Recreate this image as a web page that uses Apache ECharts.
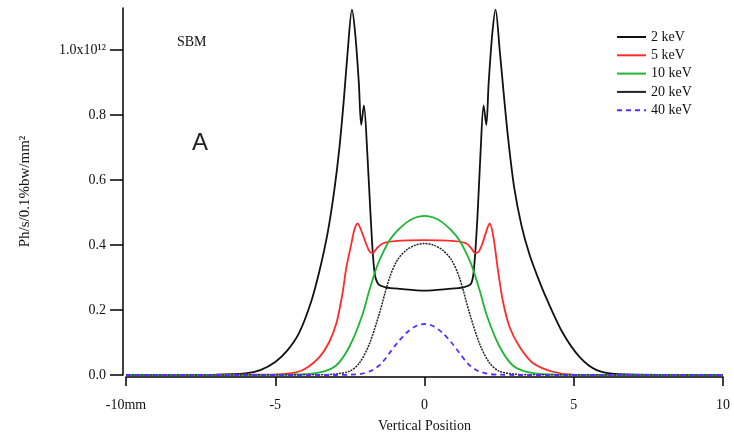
<!DOCTYPE html>
<html><head><meta charset="utf-8">
<script src="https://cdn.jsdelivr.net/npm/echarts@6/dist/echarts.min.js"></script>
<style>html,body{margin:0;padding:0;background:#fff}#c{width:734px;height:438px}</style>
</head><body><div id="c"></div>
<script>
// ---- data (x in mm, y in 1e12 Ph/s/0.1%bw/mm^2) ----
const x2 = [-10,-7,-6,-5.5,-5,-4.6,-4.2,-3.8,-3.52,-3.24,-3.02,-2.85,-2.7,-2.57,-2.43,-2.32,-2.2,-2.12,-2.03,-1.92,-1.8,-1.68,-1.55,-1.3,-0.8,0,
            0.8,1.3,1.55,1.65,1.77,1.88,1.98,2.07,2.15,2.27,2.38,2.52,2.65,2.8,3.0,3.25,3.52,3.8,4.09,4.63,5.2,5.77,6.5,10];
const y2 = [0,0.001,0.005,0.015,0.04,0.075,0.13,0.225,0.32,0.44,0.57,0.7,0.85,1.0,1.125,1.05,0.9,0.77,0.83,0.69,0.48,0.32,0.28,0.27,0.265,0.26,
            0.265,0.27,0.28,0.32,0.48,0.69,0.83,0.77,0.9,1.05,1.125,1.0,0.87,0.73,0.58,0.46,0.37,0.3,0.235,0.13,0.055,0.015,0.003,0];

const x5 = [-10,-5,-4.3,-3.9,-3.52,-3.2,-2.95,-2.75,-2.62,-2.46,-2.34,-2.24,-2.12,-1.96,-1.84,-1.73,-1.6,-1.4,-1.0,0,
            1.0,1.4,1.57,1.7,1.82,1.94,2.08,2.18,2.3,2.45,2.62,2.85,3.19,3.63,4.3,5,10];
const y5 = [0,0.002,0.008,0.025,0.055,0.1,0.16,0.25,0.33,0.4,0.45,0.467,0.445,0.405,0.38,0.375,0.39,0.405,0.412,0.415,
            0.412,0.405,0.39,0.375,0.38,0.405,0.445,0.467,0.43,0.33,0.23,0.148,0.086,0.037,0.01,0.001,0];

const x10 = [-10,-4.5,-3.5,-2.95,-2.5,-2.1,-1.85,-1.61,-1.4,-1.17,-0.9,-0.6,-0.3,0,0.3,0.6,0.9,1.17,1.4,1.61,1.85,2.1,2.5,2.95,3.5,4.5,10];
const y10 = [0,0.001,0.008,0.03,0.09,0.18,0.26,0.33,0.375,0.415,0.445,0.47,0.485,0.49,0.485,0.47,0.445,0.415,0.375,0.33,0.26,0.18,0.09,0.03,0.008,0.001,0];

const x20 = [-10,-3.5,-3.0,-2.5,-2.18,-1.85,-1.51,-1.17,-0.9,-0.6,-0.3,0,0.3,0.6,0.9,1.17,1.51,1.85,2.18,2.5,3.0,3.5,10];
const y20 = [0,0.0005,0.003,0.012,0.037,0.095,0.19,0.3,0.355,0.385,0.4,0.405,0.4,0.385,0.355,0.3,0.19,0.095,0.037,0.012,0.003,0.0005,0];

const x40 = [-10,-3,-2.5,-2.1,-1.74,-1.45,-1.17,-0.9,-0.6,-0.3,0,0.3,0.6,0.9,1.17,1.45,1.74,2.1,2.5,3,10];
const y40 = [0,0,0.001,0.004,0.015,0.035,0.068,0.1,0.13,0.15,0.157,0.15,0.13,0.1,0.068,0.035,0.015,0.004,0.001,0,0];

const seriesNames = ['2 keV','5 keV','10 keV','20 keV','40 keV'];
const xTicks = [-10,-5,0,5,10];
const yTicks = [0,0.2,0.4,0.6,0.8,1.0];

const zip = (xs, ys) => xs.map((x,i)=>[x, ys[i]]);
const serif = 'Liberation Serif';

const chart = echarts.init(document.getElementById('c'), null, {renderer:'canvas'});
const mk = (name, xs, ys, color, width, type) => ({
  name, type:'line', data: zip(xs, ys), symbol:'none', smooth:0.3,
  lineStyle:{color, width, type}, itemStyle:{color}, animation:false, z: 2
});
chart.setOption({
  animation:false,
  backgroundColor:'#fff',
  grid:{left:126, right:11, top:8, bottom:63, containLabel:false},
  xAxis:{type:'value', min:-10, max:10, interval:5, offset:2,
    axisLine:{onZero:false, lineStyle:{color:'#000', width:1.5}},
    axisTick:{length:9, inside:false, lineStyle:{color:'#000', width:1.5}, customValues:xTicks},
    axisLabel:{customValues:xTicks, color:'#111', fontFamily:serif, fontSize:14, margin:21,
      formatter:v => v===-10 ? '-10mm' : String(v)},
    splitLine:{show:false},
    name:'Vertical Position', nameLocation:'middle', nameGap:42,
    nameTextStyle:{fontFamily:serif, fontSize:14, color:'#111'}
  },
  yAxis:{type:'value', min:0, max:1.13, interval:0.2, offset:3,
    axisLine:{onZero:false, lineStyle:{color:'#000', width:1.5}},
    axisTick:{length:13, inside:false, lineStyle:{color:'#000', width:1.5}, customValues:yTicks},
    axisLabel:{customValues:yTicks, color:'#111', fontFamily:serif, fontSize:14, margin:17,
      formatter:v => Math.abs(v-1)<1e-9 ? '1.0x10¹²' : v.toFixed(1)},
    splitLine:{show:false},
    name:'Ph/s/0.1%bw/mm²', nameLocation:'middle', nameRotate:90, nameGap:90,
    nameTextStyle:{fontFamily:serif, fontSize:15, color:'#111'}
  },
  legend:{orient:'vertical', left:611, top:25, itemWidth:29, itemHeight:12, itemGap:4.3,
    itemStyle:{opacity:0},
    textStyle:{fontFamily:serif, fontSize:14, color:'#111'},
    data:[{name:'2 keV'},{name:'5 keV'},{name:'10 keV'},{name:'20 keV', lineStyle:{type:'solid'}},{name:'40 keV'}]
  },
  graphic:[
    {type:'text', left:177, top:35, style:{text:'SBM', font:'14px "Liberation Serif"', fill:'#111'}},
    {type:'text', left:192, top:131, style:{text:'A', font:'24px "Liberation Sans"', fill:'#222'}}
  ],
  series:[
    mk(seriesNames[0], x2, y2, '#111', 1.8, 'solid'),
    mk(seriesNames[1], x5, y5, '#ff2a2a', 1.8, 'solid'),
    mk(seriesNames[2], x10, y10, '#1db534', 1.8, 'solid'),
    mk(seriesNames[3], x20, y20, '#222', 1.5, [2,1]),
    mk(seriesNames[4], x40, y40, '#5a2cff', 1.8, [5,4])
  ]
});
</script></body></html>
